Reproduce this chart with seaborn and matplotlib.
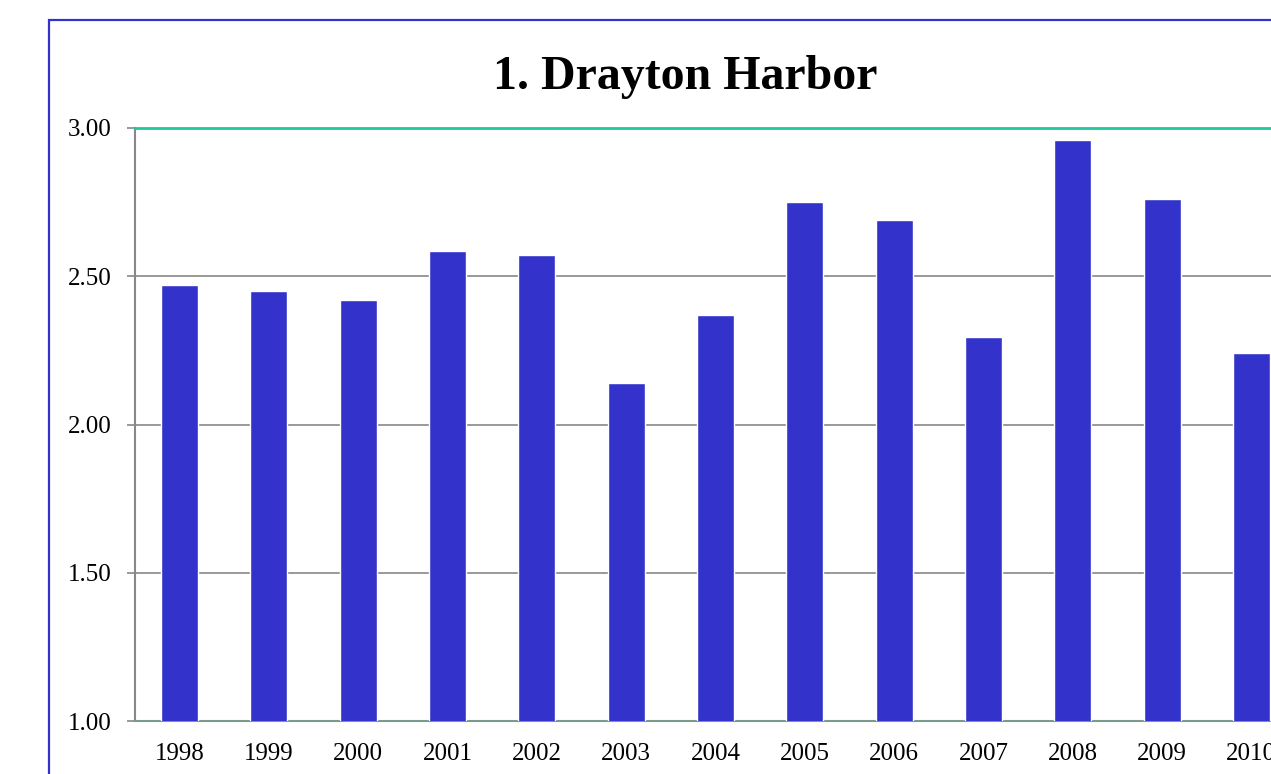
import numpy as np
import pandas as pd
import matplotlib
matplotlib.use('Agg')
import matplotlib.pyplot as plt
import seaborn as sns
from matplotlib.patches import Rectangle

years = ['1998', '1999', '2000', '2001', '2002', '2003', '2004',
         '2005', '2006', '2007', '2008', '2009', '2010']
values = [2.47, 2.45, 2.42, 2.585, 2.57, 2.14, 2.37,
          2.75, 2.69, 2.295, 2.96, 2.76, 2.24]
y_ticks = [1.00, 1.50, 2.00, 2.50, 3.00]

df = pd.DataFrame({'Year': years, 'Value': values})

sns.set_style("white")
plt.rcParams['font.family'] = ['Liberation Serif', 'DejaVu Serif']
plt.rcParams['text.color'] = 'black'
plt.rcParams['xtick.color'] = 'black'
plt.rcParams['ytick.color'] = 'black'

fig = plt.figure(figsize=(12.71, 7.74), dpi=100)
fig.patch.set_facecolor('white')

ax = fig.add_axes([135 / 1271, 53 / 774, 1161 / 1271, 593 / 774])

sns.barplot(x='Year', y='Value', data=df, color='#3333CC',
            width=0.415, saturation=1, ax=ax, zorder=3)

ax.set_ylim(1.0, 3.0)
ax.set_xlim(-0.5, len(years) - 0.5)
ax.set_yticks(y_ticks)
ax.set_yticklabels([f'{v:.2f}' for v in y_ticks], fontsize=18, color='black')
ax.set_xticks(range(len(years)))
ax.set_xticklabels(years, fontsize=18, color='black')
ax.set_xticks(np.arange(-0.5, len(years), 1.0), minor=True)
ax.tick_params(axis='x', which='major', length=0, pad=16)
ax.tick_params(axis='x', which='minor', length=6, width=1.2, color='#888888', direction='out')
ax.tick_params(axis='y', length=6, width=1.2, color='#888888', direction='out', pad=11, left=True)
ax.set_xlabel('')
ax.set_ylabel('')

for v in y_ticks[1:-1]:
    ax.axhline(v, color='#888888', linewidth=1.2, zorder=1)

ax.spines['top'].set_color('#1EC89A')
ax.spines['top'].set_linewidth(2)
ax.spines['left'].set_color('#888888')
ax.spines['left'].set_linewidth(1.5)
ax.spines['bottom'].set_color('#7A9A90')
ax.spines['bottom'].set_linewidth(1.5)
ax.spines['right'].set_visible(False)

fig.text(685 / 1271, 1 - 77 / 774, '1. Drayton Harbor', ha='center', va='center',
         fontsize=34.5, fontweight='bold', color='black')

frame = Rectangle((49 / 1271, -0.2), 1.2, 1.2 - 20 / 774, transform=fig.transFigure,
                  fill=False, edgecolor='#3333CC', linewidth=1.6, clip_on=False)
fig.patches.append(frame)

fig.savefig('out.png', dpi=100, facecolor=fig.get_facecolor())
